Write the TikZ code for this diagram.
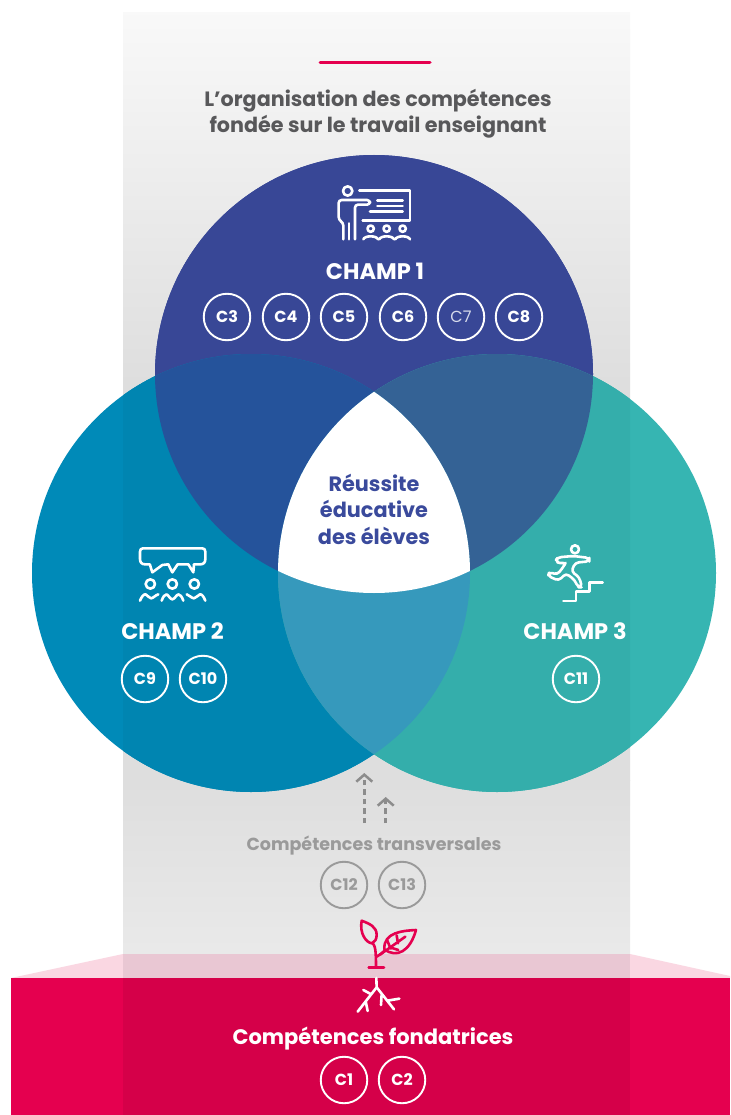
\documentclass[tikz,border=0pt]{standalone}
\usepackage{fontspec}
\setmainfont{Poppins}
\usetikzlibrary{arrows.meta}
\definecolor{cTop}{HTML}{3A4A9C}
\definecolor{cLeft}{HTML}{008AB8}
\definecolor{cRight}{HTML}{36B5B2}
\definecolor{cTL}{HTML}{2756A1}
\definecolor{cTR}{HTML}{36669B}
\definecolor{cLR}{HTML}{389FC4}
\definecolor{cRed}{HTML}{E5004F}
\definecolor{cPink}{HTML}{FAD7E2}
\definecolor{cPinkBand}{HTML}{E9C7D3}
\definecolor{cTitle}{HTML}{58585A}
\definecolor{cGrey}{HTML}{9A9A9A}
\definecolor{cDash}{HTML}{8C8C8C}
\newcommand{\fsz}[1]{\fontsize{#1pt}{#1pt}\selectfont\bfseries}
\newcommand{\topc}{(374pt,-374pt) circle[radius=219pt]}
\newcommand{\leftc}{(251pt,-573pt) circle[radius=219pt]}
\newcommand{\rightc}{(497pt,-573pt) circle[radius=219pt]}
\newcommand{\vennregions}[1]{%
  \fill[cTop!#1!black] \topc;
  \fill[cLeft!#1!black] \leftc;
  \fill[cRight!#1!black] \rightc;
  \begin{scope}\clip \topc; \fill[cTL!#1!black] \leftc; \fill[cTR!#1!black] \rightc; \end{scope}
  \begin{scope}\clip \leftc; \fill[cLR!#1!black] \rightc; \end{scope}
}
\tikzset{
  x=1pt,y=-1pt,
  pill/.style={circle,draw=white,line width=1.9pt,minimum size=46.5pt,inner sep=0pt,text=white,font=\fsz{16}},
  greypill/.style={pill,draw=cGrey,text=cGrey},
  champ/.style={text=white,font=\fsz{22.5},inner sep=0pt},
  title/.style={text=cTitle,font=\fsz{20.7},inner sep=0pt},
  mid/.style={text=cTop,font=\fsz{20.8},inner sep=0pt},
  icon/.style={draw=white,line width=2.6pt,line cap=round,line join=round},
  dasharrow/.style={draw=cDash,line width=2.5pt,dash pattern=on 5.5pt off 4pt,-{Straight Barb[length=7pt,width=16pt,line width=2.5pt]}},
}
\begin{document}
\begin{tikzpicture}
\useasboundingbox (0,0) rectangle (730,1115);
\fill[white] (0,0) rectangle (730,1115);
% grey band
\shade[top color=black!2.5,bottom color=black!14] (123,13) rectangle (630,420.5);
\shade[top color=black!14,bottom color=black!13] (123,420) rectangle (630,780.5);
\shade[top color=black!13,bottom color=black!8.5] (123,780) rectangle (630,954.5);
% bottom banner
\fill[cPink] (11,978) -- (123,954) -- (630,954) -- (730,976) -- (730,978) -- cycle;
\fill[cPinkBand] (123,954) rectangle (630,978);
\fill[cRed] (11,978) rectangle (730,1115);
\fill[cRed!93!black] (123,978) rectangle (630,1115);
% venn
\vennregions{100}
\begin{scope}
  \clip (123,13) rectangle (630,954);
  \vennregions{96}
\end{scope}
\begin{scope}
  \clip \topc; \clip \leftc; \fill[white] \rightc;
\end{scope}
% top rule
\coordinate (ruleA) at (320,62.5); \coordinate (ruleB) at (430,62.5);
\draw[cRed,line width=3pt,line cap=round] (ruleA) -- (ruleB);
% texts
\node[title] (t1) at (378,100.5) {L’organisation des compétences};
\node[title] (t2) at (378,126.5) {fondée sur le travail enseignant};
\node[champ] (ch1) at (375,271.5) {CHAMP 1};
\node[champ] (ch2) at (172.5,631.5) {CHAMP 2};
\node[champ] (ch3) at (575,631.5) {CHAMP 3};
\node[mid] (m1) at (374,483) {Réussite};
\node[mid] (m2) at (374,509) {éducative};
\node[mid] (m3) at (374,536) {des élèves};
\node[text=cGrey,font=\fsz{17.5},inner sep=0pt] (trans) at (374,846) {Compétences transversales};
\node[text=white,font=\fsz{21},inner sep=0pt] (fond) at (373,1039) {Compétences fondatrices};
% pills
\node[pill] (c3) at (227,317) {C3};
\node[pill] (c4) at (286,317) {C4};
\node[pill] (c5) at (344,317) {C5};
\node[pill] (c6) at (403,317) {C6};
\node[pill,font=\fontsize{16pt}{16pt}\selectfont,text=white!80!cTop] (c7) at (461,317) {C7};
\node[pill] (c8) at (519,317) {C8};
\node[pill] (c9) at (145,679) {C9};
\node[pill] (c10) at (203,679) {C10};
\node[pill] (c11) at (576,679) {C11};
\node[greypill] (c12) at (344,885) {C12};
\node[greypill] (c13) at (402,885) {C13};
\node[pill] (c1) at (344,1080) {C1};
\node[pill] (c2) at (402,1080) {C2};
% dashed arrows
\coordinate (a1s) at (364.3,823); \coordinate (a1e) at (364.3,773);
\coordinate (a2s) at (385.7,823); \coordinate (a2e) at (385.7,797);
\draw[dasharrow] (a1s) -- (a1e);
\draw[dasharrow] (a2s) -- (a2e);
% icon 1: teacher
\begin{scope}[shift={(320,170)},x=.3333pt,y=-.3333pt]
  \draw[icon] (83,63) circle[radius=14pt*.3333];
  \draw[icon] (118,62) -- (270,62) -- (270,152) -- (128,152);
  \draw[icon] (172,92) -- (248,92) (172,108) -- (248,108) (150,124) -- (248,124);
  \draw[icon,rounded corners=3pt] (70,208) -- (70,158) -- (56,150) -- (56,90) -- (150,90) -- (150,104) -- (105,104) -- (105,208);
  \draw[icon] (87,160) -- (87,208);
  \foreach \hx in {152,200,248}{
    \draw[icon] (\hx,176) circle[radius=9.5pt*.3333];
    \draw[icon] (\hx-22,208) .. controls (\hx-18,196) and (\hx+18,196) .. (\hx+22,208);
  }
\end{scope}
% icon 2: speech
\begin{scope}[shift={(125,535)},x=.3333pt,y=-.3333pt]
  \draw[icon] (75,88) -- (60,88) .. controls (50,88) and (45,82) .. (45,72) -- (45,50) .. controls (45,44) and (48,40) .. (54,40) -- (232,40) .. controls (238,40) and (241,44) .. (241,50) -- (241,72) .. controls (241,82) and (236,88) .. (226,88) -- (207,88);
  \draw[icon] (75,90) -- (82,112) -- (112,90) -- (130,88);
  \draw[icon] (130,88) -- (142,112) -- (158,88) -- (190,88);
  \draw[icon] (190,88) -- (205,112) -- (207,88);
  \foreach \hx in {76,142,208}{\draw[icon] (\hx,147) circle[radius=14pt*.3333];}
  \draw[icon] (45,197) .. controls (50,185) and (56,177) .. (62,178) .. controls (68,180) and (72,190) .. (78,190) .. controls (84,190) and (92,180) .. (100,178);
  \draw[icon] (110,197) .. controls (114,185) and (120,178) .. (125,178) .. controls (130,180) and (136,193) .. (142,193) .. controls (148,193) and (154,180) .. (160,178) .. controls (165,178) and (171,185) .. (175,197);
  \draw[icon] (185,178) .. controls (193,180) and (200,190) .. (207,190) .. controls (213,190) and (218,180) .. (225,178) .. controls (231,177) and (236,185) .. (241,197);
\end{scope}
% icon 3: runner
\begin{scope}[shift={(530,530)},x=.3333pt,y=-.3333pt]
  \draw[icon] (135,58) circle[radius=12pt*.3333];
  \draw[icon] (100,213) -- (138,213) -- (138,185) -- (178,185) -- (178,157) -- (218,157);
  \draw[icon,rounded corners=3.5pt] (84,82) -- (130,78) -- (178,84) -- (178,94) -- (136,98) -- (124,124) -- (148,142) -- (156,172) -- (144,172) -- (134,150) -- (108,130) -- (86,152) -- (54,138) -- (58,126) -- (82,134) -- (102,108) -- (108,96) -- (90,102) -- (76,92) -- cycle;
\end{scope}
% icon 4: plant and roots
\begin{scope}[shift={(330,910)},x=.3333pt,y=-.3333pt]
  \draw[icon,draw=cRed] (95,32) .. controls (120,42) and (140,50) .. (140,75) .. controls (140,88) and (134,96) .. (126,100) .. controls (108,98) and (88,70) .. (95,32) -- cycle;
  \draw[icon,draw=cRed] (127,98) .. controls (136,108) and (138,120) .. (138,172);
  \draw[icon,draw=cRed] (116,172) -- (162,172);
  \draw[icon,draw=cRed] (140,140) .. controls (150,134) and (158,128) .. (166,120);
  \draw[icon,draw=cRed] (258,60) .. controls (220,62) and (160,66) .. (163,118) .. controls (200,145) and (240,125) .. (258,60) -- cycle;
  \draw[icon,draw=cRed] (150,134) -- (226,80) (200,76) -- (204,100) (172,92) -- (182,116) (180,112) -- (205,120);
  \draw[icon] (139,204) -- (140,232) -- (83,305);
  \draw[icon] (100,240) -- (122,252) (108,278) -- (113,303);
  \draw[icon] (140,232) -- (192,298) (155,252) -- (153,285) (172,272) -- (208,266);
\end{scope}
\end{tikzpicture}
\end{document}
